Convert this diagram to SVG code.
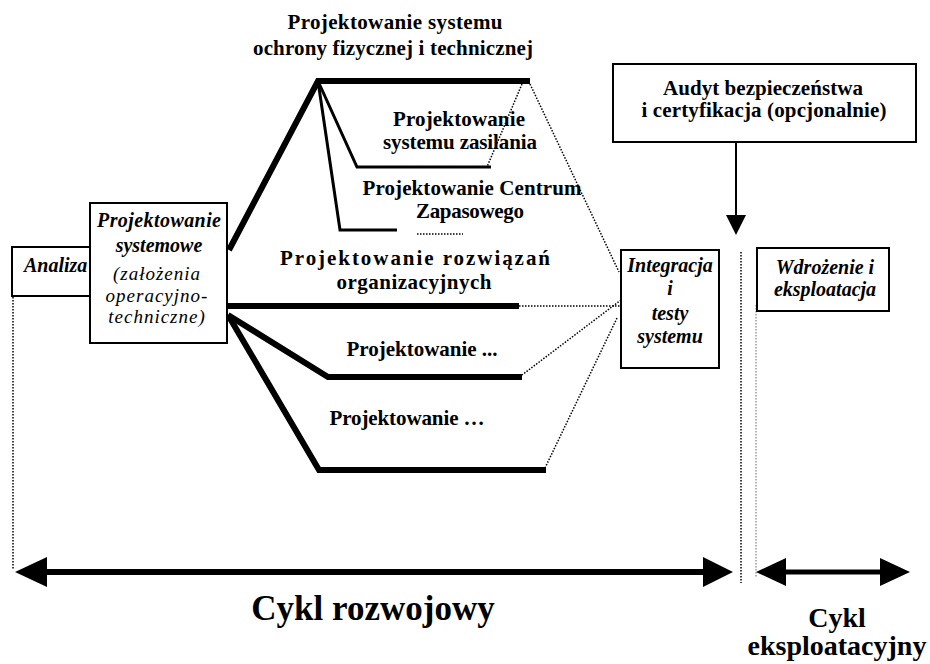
<svg xmlns="http://www.w3.org/2000/svg" width="930" height="664" viewBox="0 0 930 664">
<style>
.t{font-family:"Liberation Serif","Times New Roman",serif;font-weight:bold;font-size:21px;fill:#000;text-anchor:middle}
.bi{font-family:"Liberation Serif","Times New Roman",serif;font-weight:bold;font-style:italic;font-size:20px;fill:#000;text-anchor:middle}
.i{font-family:"Liberation Serif","Times New Roman",serif;font-style:italic;font-size:19px;fill:#000;text-anchor:middle;letter-spacing:1px}
.box{fill:#fff;stroke:#000;stroke-width:2}
.thick{fill:none;stroke:#000;stroke-width:6;stroke-linejoin:miter}
.thin{fill:none;stroke:#000;stroke-width:3}
.dot{fill:none;stroke:#000;stroke-width:1.5;stroke-dasharray:1.5 1.5}
.gdot{fill:none;stroke:#999;stroke-width:1.5;stroke-dasharray:1.5 1.5}
</style>
<rect width="930" height="664" fill="#fff"/>
<g id="connectors">
  <polyline class="thick" points="229,250 318,81 530,81"/>
  <polyline class="thin" points="318,81 357,167 491,167"/>
  <polyline class="thin" points="318,81 340,230 397,230"/>
  <line class="dot" x1="417" y1="234" x2="463" y2="234"/>
  <line class="thick" x1="228" y1="306" x2="519" y2="306"/>
  <polyline class="thick" points="228,315 328,377 522,377"/>
  <polyline class="thick" points="228,315 319,470 546,470"/>
  <line class="dot" x1="522" y1="84" x2="487" y2="167"/>
  <line class="dot" x1="530" y1="84" x2="619" y2="272"/>
  <line class="dot" x1="519" y1="306" x2="621" y2="306"/>
  <line class="dot" x1="621" y1="300" x2="522" y2="375"/>
  <line class="dot" x1="617" y1="318" x2="545" y2="468"/>
  <line x1="736" y1="142" x2="736" y2="216" stroke="#000" stroke-width="2"/>
  <polygon points="726,215 746,215 736,235" fill="#000"/>
  <line class="dot" x1="13" y1="297" x2="13" y2="569"/>
  <line class="dot" x1="741" y1="252" x2="741" y2="583"/>
  <line class="gdot" x1="756" y1="305" x2="756" y2="578"/>
  <line x1="40" y1="572" x2="710" y2="572" stroke="#000" stroke-width="6"/>
  <polygon points="15,572 47,557 47,587" fill="#000"/>
  <polygon points="733,572 703,557 703,587" fill="#000"/>
  <line x1="780" y1="572" x2="886" y2="572" stroke="#000" stroke-width="5"/>
  <polygon points="756,572 786,558 786,586" fill="#000"/>
  <polygon points="910,572 880,558 880,586" fill="#000"/>
</g>
<g id="analiza">
  <rect class="box" x="12" y="247" width="100" height="49" stroke-width="1.5"/>
  <text class="bi" x="24" y="272" style="text-anchor:start">Analiza</text>
</g>
<g id="projektowanie-systemowe">
  <rect class="box" x="90" y="203" width="137" height="140"/>
  <text class="bi" x="159" y="227" textLength="124">Projektowanie</text>
  <text class="bi" x="159" y="252">systemowe</text>
  <text class="i" x="157" y="280">(założenia</text>
  <text class="i" x="157" y="302">operacyjno-</text>
  <text class="i" x="157" y="323">techniczne)</text>
</g>
<g id="label-ochrona">
  <text class="t" x="395" y="29" textLength="215">Projektowanie systemu</text>
  <text class="t" x="393" y="55" textLength="280">ochrony fizycznej i technicznej</text>
</g>
<g id="label-zasilanie">
  <text class="t" x="459" y="126" textLength="132">Projektowanie</text>
  <text class="t" x="460" y="149" textLength="154">systemu zasilania</text>
</g>
<g id="label-centrum">
  <text class="t" x="472" y="195" textLength="219">Projektowanie Centrum</text>
  <text class="t" x="470" y="218" textLength="108">Zapasowego</text>
</g>
<g id="label-organizacyjne">
  <text class="t" x="415" y="265" textLength="270">Projektowanie rozwiązań</text>
  <text class="t" x="414" y="289" textLength="155">organizacyjnych</text>
</g>
<g id="label-proj1">
  <text class="t" x="422" y="356" textLength="151">Projektowanie ...</text>
</g>
<g id="label-proj2">
  <text class="t" x="407" y="425" textLength="155">Projektowanie …</text>
</g>
<g id="integracja">
  <rect class="box" x="621" y="250" width="98" height="118"/>
  <text class="bi" x="670" y="272">Integracja</text>
  <text class="bi" x="670" y="295">i</text>
  <text class="bi" x="670" y="320">testy</text>
  <text class="bi" x="670" y="343">systemu</text>
</g>
<g id="audyt">
  <rect class="box" x="613" y="64" width="303" height="78"/>
  <text class="t" x="763" y="95" textLength="200">Audyt bezpieczeństwa</text>
  <text class="t" x="764" y="117" textLength="245">i certyfikacja (opcjonalnie)</text>
</g>
<g id="wdrozenie">
  <rect class="box" x="757" y="248" width="132" height="63"/>
  <text class="bi" x="825" y="274">Wdrożenie i</text>
  <text class="bi" x="825" y="296">eksploatacja</text>
</g>
<g id="cykl-rozwojowy">
  <text class="t" x="373" y="620" style="font-size:35px">Cykl rozwojowy</text>
</g>
<g id="cykl-eksploatacyjny">
  <text class="t" x="837" y="627" style="font-size:28px">Cykl</text>
  <text class="t" x="837" y="655" style="font-size:28px">eksploatacyjny</text>
</g>
</svg>
